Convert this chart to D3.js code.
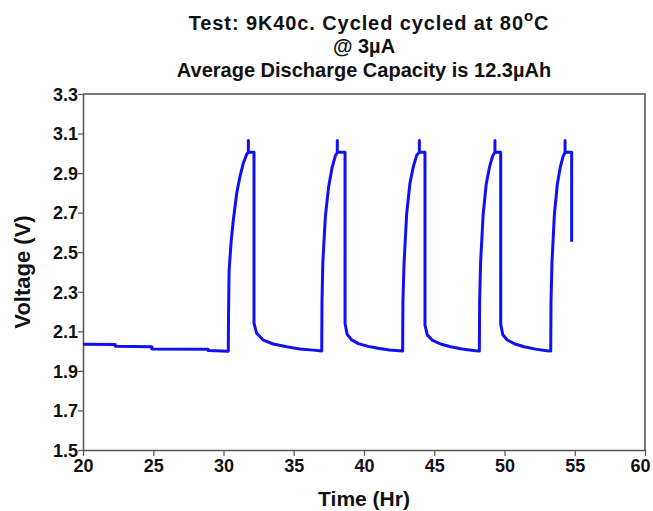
<!DOCTYPE html>
<html>
<head>
<meta charset="utf-8">
<script src="https://cdn.jsdelivr.net/npm/d3@7"></script>
<style>
    body { margin: 0; background: #fff; }
    text { font-family: "Liberation Sans", Arial, sans-serif; font-weight: bold; fill: #111; }
</style>
</head>
<body>
<div id="chart"></div>
<script>
// time (hr), voltage (V)
const restPeriod = [[20, 2.035], [22.3, 2.034], [22.3, 2.024], [24.9, 2.022], [24.9, 2.011], [28.9, 2.009], [28.9, 2.003], [30.34, 1.999]];
const cycle1 = [[30.34, 1.999], [30.36, 2.2], [30.40, 2.41], [30.55, 2.56], [30.70, 2.663], [30.94, 2.798], [31.17, 2.882], [31.41, 2.95], [31.65, 2.995], [31.77, 3.005], [31.77, 3.065], [31.77, 3.005], [32.17, 3.005], [32.17, 2.141], [32.36, 2.09], [32.83, 2.056], [33.54, 2.036], [34.5, 2.022], [35.44, 2.011], [36.39, 2.005], [36.99, 2.0]];
const cycle2 = [[36.99, 2.0], [37.01, 2.25], [37.07, 2.45], [37.25, 2.68], [37.48, 2.83], [37.72, 2.925], [37.95, 2.985], [38.10, 3.005], [38.10, 3.065], [38.10, 3.005], [38.65, 3.005], [38.65, 2.14], [38.8, 2.085], [39.1, 2.058], [39.6, 2.038], [40.3, 2.024], [41.0, 2.014], [41.8, 2.006], [42.75, 2.001]];
const cycle3 = [[42.75, 2.001], [42.77, 2.25], [42.85, 2.445], [43.04, 2.697], [43.27, 2.849], [43.51, 2.932], [43.75, 2.99], [43.94, 3.005], [43.94, 3.065], [43.94, 3.005], [44.34, 3.005], [44.34, 2.132], [44.5, 2.082], [44.85, 2.056], [45.45, 2.036], [46.16, 2.022], [46.99, 2.011], [47.94, 2.002], [48.21, 2.0]];
const cycle4 = [[48.21, 2.0], [48.23, 2.25], [48.30, 2.45], [48.48, 2.69], [48.70, 2.845], [48.93, 2.93], [49.15, 2.985], [49.32, 3.005], [49.32, 3.065], [49.32, 3.005], [49.73, 3.005], [49.73, 2.135], [49.88, 2.083], [50.2, 2.056], [50.75, 2.036], [51.4, 2.022], [52.2, 2.01], [53.0, 2.002], [53.29, 2.0]];
const cycle5 = [[53.29, 2.0], [53.31, 2.25], [53.38, 2.45], [53.55, 2.69], [53.76, 2.845], [53.97, 2.93], [54.17, 2.985], [54.31, 3.005], [54.31, 3.065], [54.31, 3.005], [54.78, 3.005], [54.78, 2.553]];

const xTicks = [20, 25, 30, 35, 40, 45, 50, 55, 60];
const yTicks = [1.5, 1.7, 1.9, 2.1, 2.3, 2.5, 2.7, 2.9, 3.1, 3.3];

const W = 653, H = 511;
const margin = { top: 94, right: 8, bottom: 61, left: 83 };
const width = W - margin.left - margin.right;
const height = H - margin.top - margin.bottom;

const svg = d3.select('#chart').append('svg')
    .attr('width', W)
    .attr('height', H);

const x = d3.scaleLinear().domain([20, 60]).range([0, width]);
const y = d3.scaleLinear().domain([1.5, 3.3]).range([height, 0]);

const g = svg.append('g')
    .attr('transform', `translate(${margin.left},${margin.top})`);

// frame (top + right)
g.append('path')
    .attr('d', `M0,0H${width}V${height}`)
    .attr('fill', 'none')
    .attr('stroke', '#777')
    .attr('stroke-width', 2);

const xAxis = g.append('g')
    .attr('transform', `translate(0,${height})`)
    .call(d3.axisBottom(x).tickValues(xTicks).tickSize(6).tickSizeOuter(0).tickFormat(d3.format('d')));

const yAxis = g.append('g')
    .call(d3.axisLeft(y).tickValues(yTicks).tickSize(5).tickSizeOuter(0).tickFormat(d3.format('.1f')));

[xAxis, yAxis].forEach(a => {
    a.select('.domain').attr('stroke', '#555').attr('stroke-width', 1.5);
    a.selectAll('.tick line').attr('stroke', '#555').attr('stroke-width', 1.2);
    a.selectAll('text').attr('fill', '#111');
});
xAxis.selectAll('text').attr('font-size', 18).attr('dy', '0.71em').attr('y', 9)
    .attr('x', d => d === 60 ? -5 : 0);
yAxis.selectAll('text').attr('font-size', 18).attr('x', -5).attr('dy', '0.35em');

const line = d3.line().x(d => x(d[0])).y(d => y(d[1]));
const voltage = [].concat(restPeriod, cycle1, cycle2, cycle3, cycle4, cycle5);

g.append('path')
    .datum(voltage)
    .attr('d', line)
    .attr('fill', 'none')
    .attr('stroke', '#1010f5')
    .attr('stroke-width', 3)
    .attr('stroke-linejoin', 'round');

// titles
const cx = margin.left + width / 2;
const title = svg.append('text')
    .attr('x', cx + 5)
    .attr('y', 30)
    .attr('text-anchor', 'middle')
    .attr('font-size', 20)
    .attr('letter-spacing', 0.9);
title.append('tspan').text('Test: 9K40c. Cycled cycled at 80');
title.append('tspan').attr('font-size', 15).attr('dy', -9).text('o');
title.append('tspan').attr('dy', 9).text('C');

svg.append('text')
    .attr('x', cx)
    .attr('y', 53)
    .attr('text-anchor', 'middle')
    .attr('font-size', 20)
    .text('@ 3µA');

svg.append('text')
    .attr('x', cx)
    .attr('y', 77)
    .attr('text-anchor', 'middle')
    .attr('font-size', 20)
    .text('Average Discharge Capacity is 12.3µAh');

svg.append('text')
    .attr('x', cx)
    .attr('y', 506)
    .attr('text-anchor', 'middle')
    .attr('font-size', 21)
    .text('Time (Hr)');

svg.append('text')
    .attr('transform', `translate(30,${margin.top + height / 2}) rotate(-90)`)
    .attr('text-anchor', 'middle')
    .attr('font-size', 22)
    .text('Voltage (V)');
</script>
</body>
</html>
